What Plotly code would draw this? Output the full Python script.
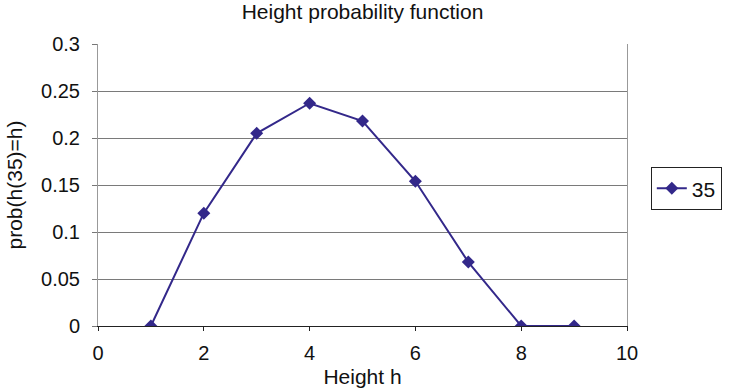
import plotly.graph_objects as go

heights = [1, 2, 3, 4, 5, 6, 7, 8, 9]
prob_35 = [0, 0.12, 0.205, 0.237, 0.218, 0.154, 0.068, 0, 0]
series_name = "35"
x_ticks = [0, 2, 4, 6, 8, 10]
y_ticks = [0, 0.05, 0.1, 0.15, 0.2, 0.25, 0.3]

color = "#33288A"
font = "Liberation Sans, Arial, sans-serif"

fig = go.Figure()
fig.add_trace(go.Scatter(
    x=heights, y=prob_35, name=series_name, mode="lines+markers",
    line=dict(color=color, width=2),
    marker=dict(symbol="diamond", size=10, color=color),
))

fig.update_layout(
    width=734, height=388,
    margin=dict(l=98, r=104, t=44, b=62),
    paper_bgcolor="white", plot_bgcolor="white",
    font=dict(family=font, size=20, color="#111"),
    title=dict(text="Height probability function", x=0.5, xanchor="center",
               xref="paper", y=0.99, yanchor="top",
               font=dict(size=21, color="#111")),
    showlegend=True,
    legend=dict(x=1.045, y=0.487, xanchor="left", yanchor="middle",
                bordercolor="#222", borderwidth=1, bgcolor="white",
                font=dict(size=21, color="#111"),
                itemwidth=30, tracegroupgap=0),
    xaxis=dict(
        range=[0, 10], tickvals=x_ticks, ticks="outside", ticklen=4,
        tickcolor="#222", showgrid=False, zeroline=False,
        showline=True, linecolor="#222", linewidth=1,
        ticklabelstandoff=5, automargin=False,
        title=dict(text="Height h", standoff=8, font=dict(size=21)),
        tickfont=dict(size=20),
    ),
    yaxis=dict(
        range=[0, 0.3], tickvals=y_ticks, ticks="outside", ticklen=5,
        tickcolor="#777", showgrid=True, gridcolor="#7a7a7a", gridwidth=1,
        zeroline=False, showline=True, linecolor="#999", linewidth=1,
        mirror=True, ticklabelstandoff=8, automargin=False,
        title=dict(text="prob(h(35)=h)", standoff=12, font=dict(size=21)),
        tickfont=dict(size=20),
    ),
)

fig.write_html("out.html")
